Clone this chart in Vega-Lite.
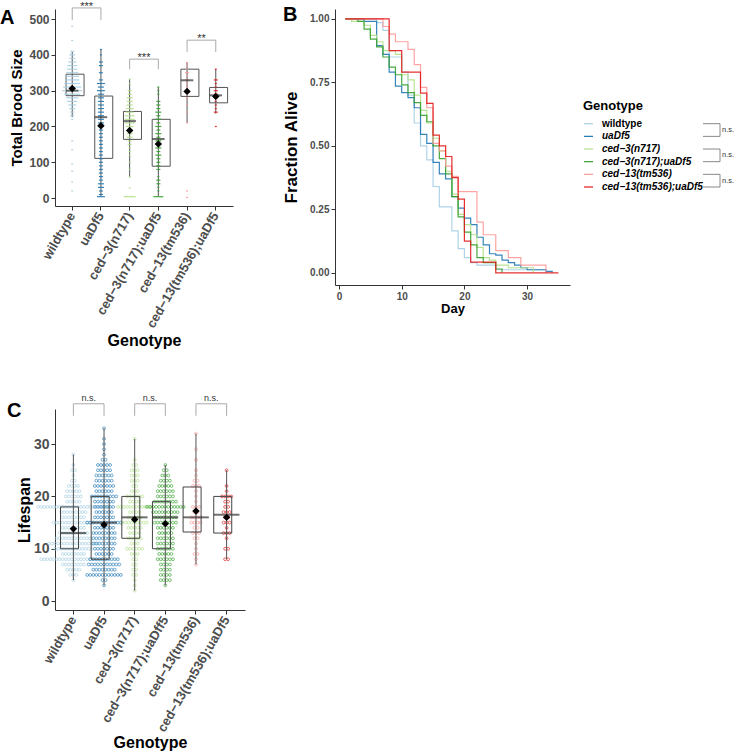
{
"$schema":"https://vega.github.io/schema/vega-lite/v6.json",
"padding":0,
"background":"white",
"config":{"font":"Liberation Sans","view":{"stroke":null},
 "axis":{"grid":false,"domainColor":"#333","tickColor":"#333","labelColor":"#4d4d4d","titleColor":"#000","labelFontWeight":"bold","titleFontWeight":"bold","labelFont":"Liberation Sans","titleFont":"Liberation Sans","tickSize":4,"labelOverlap":false}},
"datasets":{
 "broodBox":[
  {"genotype":"wildtype","lo":226,"q1":286,"med":300,"q3":346,"hi":408,"mean":306},
  {"genotype":"uaDf5","lo":4,"q1":111,"med":226,"q3":285,"hi":416,"mean":202},
  {"genotype":"ced−3(n717)","lo":58,"q1":164,"med":215,"q3":242,"hi":332,"mean":189},
  {"genotype":"ced−3(n717);uaDf5","lo":5,"q1":89,"med":165,"q3":220,"hi":310,"mean":151},
  {"genotype":"ced−13(tm536)","lo":210,"q1":284,"med":329,"q3":360,"hi":380,"mean":298},
  {"genotype":"ced−13(tm536);uaDf5","lo":236,"q1":266,"med":287,"q3":309,"hi":360,"mean":284}],
 "broodDots":[
  {"genotype":"wildtype","brood":[480,440,410,400,390,380,370,360,350,340,330,320,310,300,290,280,270,260,250,240,230,220,160,135,95,75,45,20],"n":[1,1,2,3,3,4,5,5,6,7,7,8,9,10,8,6,5,4,3,2,2,1,1,1,1,1,1,1]},
  {"genotype":"uaDf5","brood":[415,400,380,370,350,330,320,310,300,290,280,270,260,250,240,230,220,210,200,190,180,170,160,150,140,130,120,110,100,90,80,70,60,50,40,30,20,10,4],"n":[1,1,2,2,2,2,4,3,4,3,3,3,3,3,3,3,3,3,3,2,2,2,2,2,2,2,2,2,2,2,2,2,2,2,3,3,2,2,4]},
  {"genotype":"ced−3(n717)","brood":[332,320,300,290,280,270,260,250,240,230,220,210,200,190,180,170,160,150,140,130,120,100,80,60,28,4],"n":[1,1,2,2,3,3,3,4,4,5,5,5,4,3,3,3,2,2,1,1,1,1,1,1,1,6]},
  {"genotype":"ced−3(n717);uaDf5","brood":[310,300,290,270,260,250,240,230,220,210,200,190,180,170,160,150,140,130,120,110,100,90,80,60,50,40,30,20,4],"n":[1,1,1,2,2,2,3,2,3,2,3,2,3,2,3,2,3,2,3,2,2,2,2,1,2,2,1,1,5]},
  {"genotype":"ced−13(tm536)","brood":[378,370,360,350,340,330,320,310,300,290,280,260,240,210,20,2],"n":[1,1,1,2,1,2,1,1,2,1,1,1,1,1,1,1]},
  {"genotype":"ced−13(tm536);uaDf5","brood":[360,330,320,310,300,290,280,270,260,250,240,200],"n":[1,2,1,1,2,2,2,1,1,1,2,1]}],
 "broodSig":[
  {"genotype":"wildtype","genotype2":"uaDf5","top":531,"leg":497,"label":"***"},
  {"genotype":"ced−3(n717)","genotype2":"ced−3(n717);uaDf5","top":388,"leg":360,"label":"***"},
  {"genotype":"ced−13(tm536)","genotype2":"ced−13(tm536);uaDf5","top":441,"leg":408,"label":"**"}],
 "surv":[
  {"genotype":"wildtype","day":[1,6,7,8,10,11,12,13,14,15,16,18,19,20,21,22,25,33],"surv":[1,0.985,0.955,0.85,0.79,0.70,0.59,0.50,0.445,0.34,0.26,0.165,0.095,0.06,0.04,0.03,0.012,0]},
  {"genotype":"uaDf5","day":[1,4,6,7,8,9,10,11,12,13,14,15,16,17,18,19,20,21,22,23,24,25,26,27,28,29,30,33,34],"surv":[1,0.99,0.895,0.86,0.79,0.735,0.71,0.69,0.65,0.545,0.51,0.435,0.39,0.37,0.30,0.255,0.215,0.19,0.14,0.11,0.075,0.07,0.05,0.04,0.03,0.02,0.012,0.006,0]},
  {"genotype":"ced−3(n717)","day":[1,2,4,5,6,7,9,10,11,12,13,14,15,16,17,18,19,20,21,22,23,24,25,27,31],"surv":[1,0.99,0.975,0.935,0.91,0.875,0.86,0.78,0.76,0.70,0.64,0.59,0.53,0.48,0.40,0.31,0.23,0.19,0.15,0.10,0.06,0.05,0.03,0.02,0]},
  {"genotype":"ced−3(n717);uaDf5","day":[1,3,4,5,6,7,8,9,10,11,12,13,14,15,16,17,18,19,20,21,22,23,25,26],"surv":[1,0.99,0.96,0.92,0.89,0.85,0.81,0.78,0.74,0.71,0.67,0.62,0.595,0.50,0.45,0.39,0.30,0.22,0.16,0.11,0.06,0.04,0.015,0]},
  {"genotype":"ced−13(tm536)","day":[1,7,8,9,11,12,13,14,15,16,17,18,19,22,23,25,27,29,33],"surv":[1,0.97,0.94,0.91,0.88,0.82,0.73,0.65,0.51,0.48,0.42,0.38,0.32,0.2,0.15,0.087,0.06,0.03,0]},
  {"genotype":"ced−13(tm536);uaDf5","day":[1,8,10,13,14,15,16,17,18,19,20,21,25,35],"surv":[1,0.875,0.79,0.708,0.667,0.542,0.5,0.458,0.375,0.29,0.125,0.042,0,0]}],
 "genotypes":[{"genotype":"wildtype"},{"genotype":"uaDf5"},{"genotype":"ced−3(n717)"},{"genotype":"ced−3(n717);uaDf5"},{"genotype":"ced−13(tm536)"},{"genotype":"ced−13(tm536);uaDf5"}],
 "legendSig":[
  {"genotype":"wildtype","genotype2":"uaDf5","label":"n.s."},
  {"genotype":"ced−3(n717)","genotype2":"ced−3(n717);uaDf5","label":"n.s."},
  {"genotype":"ced−13(tm536)","genotype2":"ced−13(tm536);uaDf5","label":"n.s."}],
 "life":[
  {"genotype":"wildtype","lifespan":[4,5,5,5,6,6,6,6,6,7,7,7,7,7,7,7,7,8,8,8,8,8,8,8,8,8,8,8,8,8,8,8,8,8,8,8,8,8,8,9,9,9,9,9,9,9,9,10,10,10,10,10,10,10,10,10,10,10,10,10,11,11,11,11,11,11,11,11,11,11,11,11,11,11,11,11,11,12,12,12,12,12,12,12,12,12,12,12,12,13,13,13,13,13,13,13,13,13,13,14,14,14,14,14,14,14,14,15,15,15,15,15,15,15,15,15,15,15,15,15,15,16,16,16,16,16,16,16,16,17,17,17,17,17,17,17,17,17,18,18,18,18,18,18,18,18,18,18,18,18,18,18,18,18,18,18,18,18,18,18,18,18,19,19,19,19,19,20,20,20,20,20,20,21,21,21,21,21,22,22,22,22,23,23,24,25,25,26,28]},
  {"genotype":"uaDf5","lifespan":[3,4,4,5,5,5,5,5,5,5,5,5,5,5,5,6,6,6,6,6,6,6,6,7,7,7,7,7,7,7,7,7,7,7,8,8,8,8,8,8,8,8,8,8,9,9,9,9,9,9,10,10,10,10,10,10,10,11,11,11,11,11,11,11,11,12,12,12,12,12,12,12,12,13,13,13,13,13,13,13,13,14,14,14,14,14,14,14,15,15,15,15,15,15,15,15,15,15,15,15,16,16,16,16,16,16,16,17,17,17,17,17,17,18,18,18,18,18,18,18,19,19,19,19,19,19,19,20,20,20,20,20,20,20,20,20,21,21,21,21,21,21,22,22,22,22,22,22,22,23,23,23,23,23,23,24,24,24,24,24,24,25,25,25,25,25,26,26,26,26,26,27,27,28,29,30,31,33]},
  {"genotype":"ced−3(n717)","lifespan":[2,3,4,5,5,6,6,7,7,8,8,9,9,9,10,10,10,10,10,10,11,11,11,12,12,12,12,12,13,13,13,13,14,14,14,14,14,15,15,15,15,15,15,15,15,15,16,16,16,16,16,17,17,17,17,18,18,18,18,18,18,18,18,18,18,18,18,19,19,19,19,20,20,20,20,20,20,21,21,21,22,22,23,23,23,24,24,24,25,25,25,26,26,27,31]},
  {"genotype":"ced−3(n717);uaDf5","lifespan":[3,4,4,4,4,5,5,5,5,6,6,6,6,7,7,7,7,8,8,8,8,8,8,9,9,9,9,9,10,10,10,10,10,10,11,11,11,11,11,11,12,12,12,12,12,12,13,13,13,13,13,14,14,14,14,14,14,15,15,15,15,15,15,15,15,16,16,16,16,16,16,16,16,17,17,17,17,17,17,17,17,17,18,18,18,18,18,18,18,18,18,18,18,18,18,19,19,19,19,19,19,19,19,20,20,20,20,20,20,21,21,21,21,21,21,22,22,22,22,22,23,23,23,23,24,24,24,25,25,26]},
  {"genotype":"ced−13(tm536)","lifespan":[7,8,9,9,10,11,12,12,13,13,13,14,14,15,15,15,15,16,16,16,16,17,17,18,18,18,19,20,21,22,22,22,23,23,24,25,27,29,32]},
  {"genotype":"ced−13(tm536);uaDf5","lifespan":[8,8,10,10,12,13,13,13,14,15,15,15,16,16,17,17,17,18,18,19,19,20,20,20,20,21,22,25]}],
 "lifeBox":[
  {"genotype":"wildtype","lo":4,"q1":10,"med":13,"q3":18,"hi":28,"mean":13.8},
  {"genotype":"uaDf5","lo":3,"q1":8,"med":15,"q3":20,"hi":33,"mean":14.6},
  {"genotype":"ced−3(n717)","lo":2,"q1":12,"med":16,"q3":20,"hi":31,"mean":15.6},
  {"genotype":"ced−3(n717);uaDf5","lo":3,"q1":10,"med":16,"q3":19,"hi":26,"mean":14.8},
  {"genotype":"ced−13(tm536)","lo":7,"q1":13.2,"med":16,"q3":21.8,"hi":32,"mean":17.2},
  {"genotype":"ced−13(tm536);uaDf5","lo":8,"q1":13,"med":16.5,"q3":20,"hi":25,"mean":16}],
 "lifeSig":[
  {"genotype":"wildtype","genotype2":"uaDf5","top":37.7,"leg":35.4,"label":"n.s."},
  {"genotype":"ced−3(n717)","genotype2":"ced−3(n717);uaDf5","top":37.7,"leg":35.4,"label":"n.s."},
  {"genotype":"ced−13(tm536)","genotype2":"ced−13(tm536);uaDf5","top":37.7,"leg":35.4,"label":"n.s."}]
},
"concat":[
 {"hconcat":[
  {"width":178,"height":197,
   "title":{"text":"A","anchor":"start","frame":"group","fontSize":20,"fontWeight":"bold","font":"Liberation Sans","color":"#000","dx":-55,"baseline":"top","offset":-27},
   "encoding":{
      "x":{"field":"genotype","type":"nominal","sort":null,"scale":{"type":"band","domain":["wildtype","uaDf5","ced−3(n717)","ced−3(n717);uaDf5","ced−13(tm536)","ced−13(tm536);uaDf5"],"paddingInner":0,"paddingOuter":0.1},
        "axis":{"title":"Genotype","labelAngle":-60,"labelFontSize":13,"titleFontSize":16,"titlePadding":2,"labelPadding":3}}},
   "layer":[
    {"data":{"name":"broodBox"},"mark":{"type":"rule","stroke":"#555","strokeWidth":1},
     "encoding":{
      "y":{"field":"lo","type":"quantitative","scale":{"domain":[-22,528],"nice":false,"zero":false},
        "axis":{"title":"Total Brood Size","values":[0,100,200,300,400,500],"labelOverlap":false,"labelFontSize":12,"titleFontSize":15,"titlePadding":4}},
      "y2":{"field":"hi"}}},
    {"data":{"name":"broodBox"},"mark":{"type":"bar","width":{"band":0.43},"fill":"white","fillOpacity":0,"stroke":"#555","strokeWidth":1},
     "encoding":{"y":{"field":"q1","type":"quantitative","axis":{"title":"Total Brood Size","values":[0,100,200,300,400,500],"labelOverlap":false,"labelFontSize":12,"titleFontSize":15,"titlePadding":4}},"y2":{"field":"q3"}}},
    {"data":{"name":"broodDots"},"transform":[{"flatten":["brood","n"]}],
     "mark":{"type":"tick","thickness":1.2,"opacity":0.9},
     "encoding":{"y":{"field":"brood","type":"quantitative","axis":{"title":"Total Brood Size","values":[0,100,200,300,400,500],"labelOverlap":false,"labelFontSize":12,"titleFontSize":15,"titlePadding":4}},
      "size":{"field":"n","type":"quantitative","scale":{"domain":[0,10],"range":[0,20]},"legend":null},
      "color":{"field":"genotype","type":"nominal","scale":{"domain":["wildtype","uaDf5","ced−3(n717)","ced−3(n717);uaDf5","ced−13(tm536)","ced−13(tm536);uaDf5"],"range":["#a6cee3","#1f78b4","#b2df8a","#33a02c","#fb9a99","#e31a1c"]},"legend":null}}},
    {"data":{"name":"broodBox"},"mark":{"type":"tick","thickness":2,"size":12.5,"color":"#333"},
     "encoding":{"y":{"field":"med","type":"quantitative","axis":{"title":"Total Brood Size","values":[0,100,200,300,400,500],"labelOverlap":false,"labelFontSize":12,"titleFontSize":15,"titlePadding":4}}}},
    {"data":{"name":"broodBox"},"mark":{"type":"point","shape":"diamond","filled":true,"size":55,"color":"#000","opacity":1},
     "encoding":{"y":{"field":"mean","type":"quantitative","axis":{"title":"Total Brood Size","values":[0,100,200,300,400,500],"labelOverlap":false,"labelFontSize":12,"titleFontSize":15,"titlePadding":4}}}},
    {"data":{"name":"broodSig"},"mark":{"type":"rule","stroke":"#aaa","clip":false},
     "encoding":{"x2":{"field":"genotype2"},"y":{"field":"top","type":"quantitative","axis":{"title":"Total Brood Size","values":[0,100,200,300,400,500],"labelOverlap":false,"labelFontSize":12,"titleFontSize":15,"titlePadding":4}}}},
    {"data":{"name":"broodSig"},"mark":{"type":"rule","stroke":"#aaa","clip":false},
     "encoding":{"y":{"field":"top","type":"quantitative","axis":{"title":"Total Brood Size","values":[0,100,200,300,400,500],"labelOverlap":false,"labelFontSize":12,"titleFontSize":15,"titlePadding":4}},"y2":{"field":"leg"}}},
    {"data":{"name":"broodSig"},"mark":{"type":"rule","stroke":"#aaa","clip":false},
     "encoding":{"x":{"field":"genotype2","type":"nominal"},"y":{"field":"top","type":"quantitative","axis":{"title":"Total Brood Size","values":[0,100,200,300,400,500],"labelOverlap":false,"labelFontSize":12,"titleFontSize":15,"titlePadding":4}},"y2":{"field":"leg"}}},
    {"data":{"name":"broodSig"},"mark":{"type":"text","fontSize":11,"fill":"#333","dx":14.35,"dy":2,"baseline":"alphabetic","clip":false},
     "encoding":{"y":{"field":"top","type":"quantitative","axis":{"title":"Total Brood Size","values":[0,100,200,300,400,500],"labelOverlap":false,"labelFontSize":12,"titleFontSize":15,"titlePadding":4}},"text":{"field":"label"}}}
   ]},
  {"hconcat":[
   {"width":235,"height":276,
    "title":{"text":"B","anchor":"start","frame":"group","fontSize":20,"fontWeight":"bold","font":"Liberation Sans","color":"#000","dx":-52,"baseline":"top","offset":-16},
    "data":{"name":"surv"},
    "transform":[{"flatten":["day","surv"]}],
    "mark":{"type":"line","interpolate":"step-after","strokeWidth":1.2,"opacity":0.9},
    "encoding":{
     "x":{"field":"day","type":"quantitative","scale":{"domain":[-0.64,36.84],"nice":false,"zero":false},
      "axis":{"title":"Day","values":[0,10,20,30],"labelFontSize":10,"titleFontSize":13,"titlePadding":1,"labelPadding":2}},
     "y":{"field":"surv","type":"quantitative","scale":{"domain":[-0.048,1.039],"nice":false,"zero":false},
      "axis":{"title":"Fraction Alive","values":[0,0.25,0.5,0.75,1],"format":".2f","labelFontSize":10,"titleFontSize":17,"titlePadding":9}},
     "color":{"field":"genotype","type":"nominal","scale":{"domain":["wildtype","uaDf5","ced−3(n717)","ced−3(n717);uaDf5","ced−13(tm536)","ced−13(tm536);uaDf5"],"range":["#a6cee3","#1f78b4","#b2df8a","#33a02c","#fb9a99","#e31a1c"]},"legend":null}}},
   {"width":140,"height":276,
    "layer":[
     {"data":{"name":"genotypes"},"mark":{"type":"rule","strokeWidth":1.2},
      "encoding":{
       "y":{"field":"genotype","type":"nominal","scale":{"type":"point","domain":["wildtype","uaDf5","ced−3(n717)","ced−3(n717);uaDf5","ced−13(tm536)","ced−13(tm536);uaDf5"],"range":[114.7,178],"padding":0},"axis":null},
       "x":{"datum":1,"type":"quantitative","scale":{"domain":[0,140],"nice":false,"zero":false},"axis":null},
       "x2":{"datum":10},
       "color":{"field":"genotype","type":"nominal","scale":{"domain":["wildtype","uaDf5","ced−3(n717)","ced−3(n717);uaDf5","ced−13(tm536)","ced−13(tm536);uaDf5"],"range":["#a6cee3","#1f78b4","#b2df8a","#33a02c","#fb9a99","#e31a1c"]},"legend":null}}},
     {"data":{"name":"genotypes"},"transform":[{"filter":"datum.genotype == 'wildtype'"}],
      "mark":{"type":"text","align":"left","baseline":"middle","fontSize":10,"fontWeight":"bold","fill":"#000"},
      "encoding":{"y":{"field":"genotype","type":"nominal"},"x":{"datum":19,"type":"quantitative"},"text":{"field":"genotype"}}},
     {"data":{"name":"genotypes"},"transform":[{"filter":"datum.genotype != 'wildtype'"}],
      "mark":{"type":"text","align":"left","baseline":"middle","fontSize":10,"fontWeight":"bold","fontStyle":"italic","fill":"#000"},
      "encoding":{"y":{"field":"genotype","type":"nominal"},"x":{"datum":19,"type":"quantitative"},"text":{"field":"genotype"}}},
     {"data":{"values":[{"title":"Genotype"}]},
      "mark":{"type":"text","align":"left","baseline":"middle","fontSize":13,"fontWeight":"bold","fill":"#000","dy":-18},
      "encoding":{"y":{"datum":"wildtype","type":"nominal"},"x":{"datum":0,"type":"quantitative"},"text":{"field":"title"}}},
     {"data":{"name":"legendSig"},"mark":{"type":"rule","stroke":"#888","clip":false},
      "encoding":{"y":{"field":"genotype","type":"nominal"},"x":{"datum":120,"type":"quantitative"},"x2":{"datum":137}}},
     {"data":{"name":"legendSig"},"mark":{"type":"rule","stroke":"#888","clip":false},
      "encoding":{"y":{"field":"genotype2","type":"nominal"},"x":{"datum":120,"type":"quantitative"},"x2":{"datum":137}}},
     {"data":{"name":"legendSig"},"mark":{"type":"rule","stroke":"#888","clip":false},
      "encoding":{"y":{"field":"genotype","type":"nominal"},"y2":{"field":"genotype2"},"x":{"datum":137,"type":"quantitative"}}},
     {"data":{"name":"legendSig"},"mark":{"type":"text","align":"left","baseline":"middle","fontSize":7.5,"fill":"#333","dy":6.3,"clip":false},
      "encoding":{"y":{"field":"genotype","type":"nominal"},"x":{"datum":139,"type":"quantitative"},"text":{"field":"label"}}}
    ]}
  ],"spacing":13,"bounds":"flush"}
 ],"spacing":102,"bounds":"flush"},
 {"width":190,"height":201,
   "title":{"text":"C","anchor":"start","frame":"group","fontSize":20,"fontWeight":"bold","font":"Liberation Sans","color":"#000","dx":-48,"baseline":"top","offset":-27},
   "encoding":{
      "x":{"field":"genotype","type":"nominal","scale":{"type":"band","domain":["wildtype","uaDf5","ced−3(n717)","ced−3(n717);uaDf5","ced−13(tm536)","ced−13(tm536);uaDf5"],"paddingInner":0,"paddingOuter":0.1},
       "axis":{"title":"Genotype","labelAngle":-60,"labelFontSize":13,"titleFontSize":16,"titlePadding":0,"labelPadding":3,"labelExpr":"datum.label == 'ced−3(n717);uaDf5' ? 'ced−3(n717);uaDff5' : datum.label"}}},
   "layer":[
    {"data":{"name":"life"},
     "transform":[{"flatten":["lifespan"]},{"window":[{"op":"count","as":"one"}],"frame":[0,0],"ignorePeers":true},{"stack":"one","groupby":["genotype","lifespan"],"offset":"center","as":["s0","s1"]}],
     "mark":{"type":"point","shape":"circle","filled":false,"size":8,"strokeWidth":0.7,"opacity":0.9,"clip":false},
     "encoding":{
      "xOffset":{"field":"s0","type":"quantitative","scale":{"domain":[-8.5,31.5],"range":[-45.88,76.52]}},
      "y":{"field":"lifespan","type":"quantitative","scale":{"domain":[-1.7,36.7],"nice":false,"zero":false},
       "axis":{"title":"Lifespan","values":[0,10,20,30],"labelOverlap":false,"labelFontSize":14,"titleFontSize":16,"titlePadding":1}},
      "color":{"field":"genotype","type":"nominal","scale":{"domain":["wildtype","uaDf5","ced−3(n717)","ced−3(n717);uaDf5","ced−13(tm536)","ced−13(tm536);uaDf5"],"range":["#a6cee3","#1f78b4","#b2df8a","#33a02c","#fb9a99","#e31a1c"]},"legend":null}}},
    {"data":{"name":"lifeBox"},"mark":{"type":"rule","stroke":"#555","strokeWidth":1},
     "encoding":{"y":{"field":"lo","type":"quantitative","axis":{"title":"Lifespan","values":[0,10,20,30],"labelOverlap":false,"labelFontSize":14,"titleFontSize":16,"titlePadding":1}},"y2":{"field":"hi"}}},
    {"data":{"name":"lifeBox"},"mark":{"type":"bar","width":{"band":0.84},"fill":"white","fillOpacity":0,"stroke":"#444","strokeWidth":1},
     "encoding":{"y":{"field":"q1","type":"quantitative","axis":{"title":"Lifespan","values":[0,10,20,30],"labelOverlap":false,"labelFontSize":14,"titleFontSize":16,"titlePadding":1}},"y2":{"field":"q3"}}},
    {"data":{"name":"lifeBox"},"mark":{"type":"tick","thickness":2,"size":25.7,"color":"#333"},
     "encoding":{"y":{"field":"med","type":"quantitative","axis":{"title":"Lifespan","values":[0,10,20,30],"labelOverlap":false,"labelFontSize":14,"titleFontSize":16,"titlePadding":1}}}},
    {"data":{"name":"lifeBox"},"mark":{"type":"point","shape":"diamond","filled":true,"size":55,"color":"#000","opacity":1},
     "encoding":{"y":{"field":"mean","type":"quantitative","axis":{"title":"Lifespan","values":[0,10,20,30],"labelOverlap":false,"labelFontSize":14,"titleFontSize":16,"titlePadding":1}}}},
    {"data":{"name":"lifeSig"},"mark":{"type":"rule","stroke":"#aaa","clip":false},
     "encoding":{"x2":{"field":"genotype2"},"y":{"field":"top","type":"quantitative","axis":{"title":"Lifespan","values":[0,10,20,30],"labelOverlap":false,"labelFontSize":14,"titleFontSize":16,"titlePadding":1}}}},
    {"data":{"name":"lifeSig"},"mark":{"type":"rule","stroke":"#aaa","clip":false},
     "encoding":{"y":{"field":"top","type":"quantitative","axis":{"title":"Lifespan","values":[0,10,20,30],"labelOverlap":false,"labelFontSize":14,"titleFontSize":16,"titlePadding":1}},"y2":{"field":"leg"}}},
    {"data":{"name":"lifeSig"},"mark":{"type":"rule","stroke":"#aaa","clip":false},
     "encoding":{"x":{"field":"genotype2","type":"nominal"},"y":{"field":"top","type":"quantitative","axis":{"title":"Lifespan","values":[0,10,20,30],"labelOverlap":false,"labelFontSize":14,"titleFontSize":16,"titlePadding":1}},"y2":{"field":"leg"}}},
    {"data":{"name":"lifeSig"},"mark":{"type":"text","fontSize":9,"fill":"#333","dx":15.3,"dy":-2.3,"baseline":"alphabetic","clip":false},
     "encoding":{"y":{"field":"top","type":"quantitative","axis":{"title":"Lifespan","values":[0,10,20,30],"labelOverlap":false,"labelFontSize":14,"titleFontSize":16,"titlePadding":1}},"text":{"field":"label"}}}
   ]}
],
"columns":1,
"align":"none",
"spacing":45
}
